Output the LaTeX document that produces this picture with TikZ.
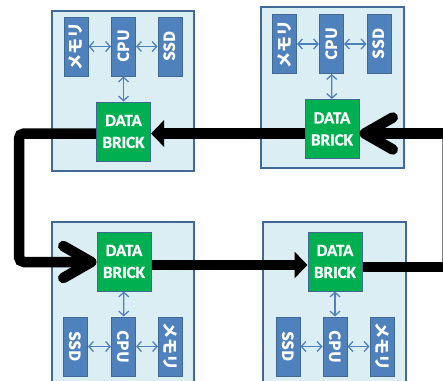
\documentclass[tikz,border=0pt]{standalone}
\usepackage{fontspec}
\setmainfont{Carlito}
\newfontfamily\heavy{Carlito}[FakeBold=1]
\newfontfamily\cjk{Noto Sans CJK JP}
\usetikzlibrary{arrows.meta}
\definecolor{boxfill}{RGB}{219,238,244}
\definecolor{boxline}{RGB}{65,105,150}
\definecolor{blk}{RGB}{79,129,189}
\definecolor{grn}{RGB}{0,176,80}
\begin{document}
\begin{tikzpicture}[x=1pt,y=-1pt,
  container/.style={draw=boxline, line width=1.5pt, fill=boxfill, minimum width=142pt, minimum height=160pt, inner sep=0pt},
  part/.style={draw=boxline, line width=1pt, fill=blk, minimum width=59pt, minimum height=24pt, inner sep=0pt, text=white, font=\cjk\bfseries\fontsize{15.5}{15.5}\selectfont},
  up/.style={part, rotate=90},
  down/.style={part, rotate=-90},
  jp/.style={font=\cjk\bfseries\fontsize{16}{16}\selectfont},
  brick/.style={draw=boxline, line width=1pt, fill=grn, minimum width=54pt, minimum height=59pt, inner sep=0pt, text=white, align=center, font=\heavy\bfseries\fontsize{17}{22}\selectfont},
  link/.style={draw=blk, line width=1.3pt, {Straight Barb[length=4.5pt,width=10pt]}-{Straight Barb[length=4.5pt,width=10pt]}},
  flow/.style={line width=10.5pt, draw=black},
  chev/.style={-{Straight Barb[length=28pt,width=32pt,round]}},
  tri/.style={-{Triangle[length=13pt,width=26pt]}}
]
\useasboundingbox (0,0) rectangle (443,380);
% containers
\node[container] (ctl) at (123,91) {};
\node[container, minimum width=143pt, minimum height=161pt] (ctr) at (332.5,87.5) {};
\node[container] (cbl) at (123,302) {};
\node[container, minimum width=143pt] (cbr) at (334.5,302) {};
% top-left
\node[up, jp] (mtl) at (76,46.5) {メモリ};
\node[up] (ptl) at (123.5,46.5) {CPU};
\node[up] (stl) at (170,46.5) {SSD};
\node[brick] (dtl) at (123.5,131.5) {DATA\\BRICK};
% top-right
\node[up, jp] (mtr) at (284.5,44) {メモリ};
\node[up] (ptr) at (331.5,44) {CPU};
\node[up] (str) at (379,44) {SSD};
\node[brick] (dtr) at (332,129) {DATA\\BRICK};
% bottom-left
\node[brick] (dbl) at (124,261.5) {DATA\\BRICK};
\node[down] (sbl) at (75.5,346.5) {SSD};
\node[down] (pbl) at (123.5,346.5) {CPU};
\node[down, jp] (mbl) at (170.5,346.5) {メモリ};
% bottom-right
\node[brick] (dbr) at (335,261.5) {DATA\\BRICK};
\node[down] (sbr) at (288,346.5) {SSD};
\node[down] (pbr) at (335,346.5) {CPU};
\node[down, jp] (mbr) at (382,346.5) {メモリ};
% small links
\draw[link] (mtl) -- (ptl);
\draw[link] (ptl) -- (stl);
\draw[link] (ptl) -- (dtl);
\draw[link] (mtr) -- (ptr);
\draw[link] (ptr) -- (str);
\draw[link] (ptr) -- (dtr);
\draw[link] (sbl) -- (pbl);
\draw[link] (pbl) -- (mbl);
\draw[link] (pbl) -- (dbl);
\draw[link] (sbr) -- (pbr);
\draw[link] (pbr) -- (mbr);
\draw[link] (pbr) -- (dbr);
% flow helpers
\coordinate (yt) at (0,133.5);
\coordinate (yb) at (0,265);
\coordinate (c1) at (19,133.5);
\coordinate (c2) at (19,262);
\coordinate (rt) at (460,133.5);
\coordinate (rb) at (460,267);
\coordinate (gt) at (442,133.5);
\coordinate (gb) at (442,267);
\draw[gray, line width=0.8pt] (gt) -- (gb);
\draw[flow, chev] (rt) -- (dtr.east |- yt);
\draw[flow, tri] (dtr.west |- yt) -- (dtl.east |- yt);
\draw[flow, chev, rounded corners=5pt] (dtl.west |- yt) -- (c1) -- (c2) -- (dbl.west |- c2);
\draw[flow, tri] (dbl.east |- yb) -- (dbr.west |- yb);
\draw[flow] (dbr.east |- rb) -- (rb);
\end{tikzpicture}
\end{document}
